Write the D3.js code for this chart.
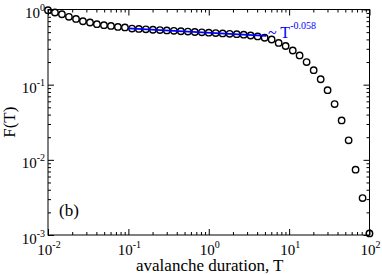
<!DOCTYPE html>
<html lang="en">
<head>
    <meta charset="UTF-8">
    <script src="https://d3js.org/d3.v7.min.js"></script>
    <style>
        body { margin: 0; background: #ffffff; }
        #viz { display: block; background: #ffffff; }
        .lbl { font-family: 'Liberation Serif', 'DejaVu Serif', serif; fill: #000; }
    </style>
</head>
<body>
    <svg id="viz" width="382" height="275"></svg>
    <script>
        // duration T (log-binned) and survival F(T)
        var durations = [0.01, 0.0122, 0.0149, 0.0182, 0.0223, 0.0272, 0.0333, 0.0406, 0.0497, 0.0607,
            0.0741, 0.0906, 0.111, 0.135, 0.165, 0.202, 0.247, 0.301, 0.368, 0.450,
            0.550, 0.671, 0.820, 1.00, 1.22, 1.49, 1.82, 2.23, 2.72, 3.32,
            4.06, 4.96, 6.06, 7.41, 9.05, 11.1, 13.5, 16.5, 20.2, 24.7,
            30.1, 36.8, 45.0, 55.0, 67.1, 82.0, 100];
        var survival = [0.98, 0.912, 0.865, 0.798, 0.750, 0.698, 0.672, 0.638, 0.618, 0.605,
            0.587, 0.577, 0.558, 0.551, 0.545, 0.538, 0.532, 0.526, 0.520, 0.514,
            0.508, 0.502, 0.497, 0.491, 0.485, 0.480, 0.474, 0.469, 0.463, 0.451,
            0.438, 0.421, 0.399, 0.359, 0.327, 0.285, 0.245, 0.200, 0.156, 0.118,
            0.0845, 0.0551, 0.0334, 0.0182, 0.0074, 0.0031, 0.00105];

        // power-law fit segment ~ T^-0.058
        var fitT = [0.1, 5.2];
        var fitF = [0.561, 0.446];

        var xMajor = [0.01, 0.1, 1, 10, 100];
        var xMajorExp = ["-2", "-1", "0", "1", "2"];
        var yMajor = [0.001, 0.01, 0.1, 1];
        var yMajorExp = ["-3", "-2", "-1", "0"];

        var svg = d3.select("#viz");
        var pLeft = 48, pRight = 369.5, pTop = 9.5, pBottom = 235;

        var x = d3.scaleLog().domain([0.01, 100]).range([pLeft, pRight]);
        var y = d3.scaleLog().domain([0.001, 1]).range([pBottom, pTop]);

        function minors(lo, hi) {
            var out = [];
            for (var e = lo; e < hi; e++)
                for (var k = 2; k <= 9; k++) out.push(k * Math.pow(10, e));
            return out;
        }
        var xMinor = minors(-2, 2);
        var yMinor = minors(-3, 0);

        function addAxis(axisFn, scale, vals, len, tr) {
            var g = svg.append("g")
                .attr("transform", tr)
                .call(axisFn(scale).tickValues(vals).tickSize(-len).tickSizeOuter(0).tickFormat(""));
            g.select(".domain").remove();
            g.selectAll("line").attr("stroke", "#000").attr("stroke-width", 1);
        }

        // ticks on all four sides, pointing in
        addAxis(d3.axisBottom, x, xMajor, 6, "translate(0," + pBottom + ")");
        addAxis(d3.axisBottom, x, xMinor, 3, "translate(0," + pBottom + ")");
        addAxis(d3.axisTop, x, xMajor, 6, "translate(0," + pTop + ")");
        addAxis(d3.axisTop, x, xMinor, 3, "translate(0," + pTop + ")");
        addAxis(d3.axisLeft, y, yMajor, 6, "translate(" + pLeft + ",0)");
        addAxis(d3.axisLeft, y, yMinor, 3, "translate(" + pLeft + ",0)");
        addAxis(d3.axisRight, y, yMajor, 6, "translate(" + pRight + ",0)");
        addAxis(d3.axisRight, y, yMinor, 3, "translate(" + pRight + ",0)");

        svg.append("rect")
            .attr("x", pLeft).attr("y", pTop)
            .attr("width", pRight - pLeft).attr("height", pBottom - pTop)
            .attr("fill", "none").attr("stroke", "#000").attr("stroke-width", 1);

        // tick labels
        var xl = svg.append("g").selectAll("text")
            .data(xMajor).enter().append("text")
            .attr("class", "lbl")
            .attr("x", function(d) { return x(d) + 1; })
            .attr("y", 255)
            .attr("text-anchor", "middle")
            .attr("font-size", 15);
        xl.append("tspan").text("10");
        xl.append("tspan").attr("font-size", 10).attr("dy", -7)
            .text(function(d, i) { return xMajorExp[i]; });

        var yl = svg.append("g").selectAll("text")
            .data(yMajor).enter().append("text")
            .attr("class", "lbl")
            .attr("x", 45)
            .attr("y", function(d) { return y(d) + 8.5; })
            .attr("text-anchor", "end")
            .attr("font-size", 15);
        yl.append("tspan").text("10");
        yl.append("tspan").attr("font-size", 10).attr("dy", -7)
            .text(function(d, i) { return yMajorExp[i]; });

        // data circles
        svg.append("g").selectAll("circle")
            .data(durations).enter().append("circle")
            .attr("cx", function(d) { return x(d); })
            .attr("cy", function(d, i) { return y(survival[i]); })
            .attr("r", 3.2)
            .attr("fill", "none")
            .attr("stroke", "#000")
            .attr("stroke-width", 1.4);

        // fit line
        svg.append("line")
            .attr("x1", x(fitT[0])).attr("y1", y(fitF[0]))
            .attr("x2", x(fitT[1])).attr("y2", y(fitF[1]))
            .attr("stroke", "#0000ff").attr("stroke-width", 1.6);

        var fitLbl = svg.append("text")
            .attr("class", "lbl")
            .attr("x", 268).attr("y", 38)
            .style("fill", "#0000ff")
            .attr("font-size", 16);
        fitLbl.append("tspan").text("~ T");
        fitLbl.append("tspan").attr("font-size", 10).attr("dy", -9).text("-0.058");

        // axis titles
        svg.append("text")
            .attr("class", "lbl")
            .attr("x", (pLeft + pRight) / 2 + 1)
            .attr("y", 271)
            .attr("text-anchor", "middle")
            .attr("font-size", 17)
            .text("avalanche duration, T");

        svg.append("text")
            .attr("class", "lbl")
            .attr("transform", "translate(15," + ((pTop + pBottom) / 2) + ") rotate(-90)")
            .attr("text-anchor", "middle")
            .attr("font-size", 17)
            .text("F(T)");

        svg.append("text")
            .attr("class", "lbl")
            .attr("x", 59).attr("y", 216)
            .attr("font-size", 17)
            .text("(b)");
    </script>
</body>
</html>
